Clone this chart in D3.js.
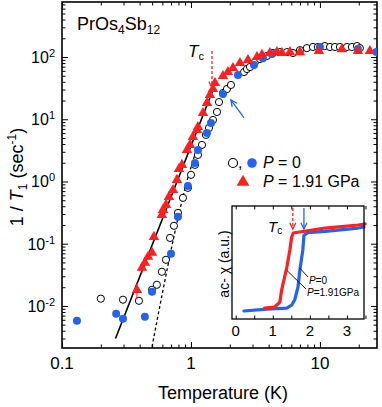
<!DOCTYPE html>
<html>
<head>
<meta charset="utf-8">
<script src="https://cdn.jsdelivr.net/npm/d3@7"></script>
<style>
body { margin: 0; background: #fff; }
svg { display: block; font-family: "Liberation Sans", Arial, sans-serif; }
.tk .domain { display: none; }
.tk line { stroke: #000; stroke-width: 1; }
</style>
</head>
<body>
<svg width="382" height="407"></svg>
<script>
// 1/T1 of PrOs4Sb12 vs temperature; open + blue circles at P = 0, red triangles at 1.91 GPa
var openT = [0.200, 0.297, 0.395, 0.499, 0.544, 0.595, 0.640, 0.688, 0.738, 0.793, 0.867, 0.947, 1.00, 1.074, 1.133, 1.217, 1.306, 1.379, 1.481, 1.591, 1.649, 1.771, 1.901, 2.041, 2.58, 2.718, 2.866, 3.135, 3.43, 3.88, 4.32, 4.90, 5.55, 6.18, 7.00, 7.92, 8.83, 9.64, 10.9, 11.97, 13.07, 14.3, 16.2, 17.7, 19.4, 20.4];
var openR = [0.0131, 0.0126, 0.0121, 0.0182, 0.0219, 0.0354, 0.0552, 0.124, 0.194, 0.313, 0.546, 0.79, 1.28, 1.85, 2.67, 3.87, 5.60, 7.24, 9.75, 13.1, 18.9, 26.4, 30.6, 35.6, 57.4, 64.2, 69.1, 83, 93, 104, 116, 120, 120, 116, 129, 139, 145, 145, 150, 145, 145, 145, 145, 145, 150, 139];

var blueT = [0.1306, 0.263, 0.297, 0.439, 0.499, 0.700, 0.793, 0.947, 1.074, 1.133, 1.330, 1.429, 1.771, 2.314, 3.08, 3.61, 4.24, 10.0, 19.7, 27.4];
var blueR = [0.0058, 0.0075, 0.0062, 0.0067, 0.0169, 0.0689, 0.270, 0.85, 1.99, 3.21, 6.03, 8.73, 25.5, 51.4, 74.4, 96, 112, 145, 134, 120];

var redT = [0.381, 0.417, 0.439, 0.465, 0.499, 0.516, 0.595, 0.607, 0.640, 0.675, 0.725, 0.778, 0.807, 0.851, 0.931, 0.982, 1.036, 1.113, 1.133, 1.239, 1.330, 1.403, 1.481, 1.535, 1.771, 1.935, 2.116, 2.397, 2.767, 3.25, 3.55, 4.09, 4.64, 5.07, 5.85, 7.00, 9.82, 14.8, 19.7, 24.4];
var redR = [0.018, 0.041, 0.0494, 0.0616, 0.0714, 0.129, 0.291, 0.350, 0.421, 0.566, 0.73, 1.06, 1.59, 1.85, 3.21, 3.87, 5.20, 6.73, 7.52, 12.6, 18.3, 24.5, 30.6, 38.3, 49.5, 57.4, 66.6, 80, 89.5, 100, 108, 116, 120, 116, 120, 120, 125, 134, 125, 125];
var redErrT = [0.381, 0.417], redErrLo = [0.0128, 0.034], redErrHi = [0.024, 0.048];

// fit lines
var solidFitT = [0.26, 1.48], solidFitR = [0.003, 29.5];
var dashFitT = [0.499, 0.607, 0.751, 0.914, 1.09], dashFitR = [0.0022, 0.018, 0.155, 0.88, 3.0];

var xTicks = [0.1, 1, 10], xTickLabels = ["0.1", "1", "10"];
var yTicks = [0.01, 0.1, 1, 10, 100], yTickExp = ["-2", "-1", "0", "1", "2"];

// inset: ac susceptibility (arbitrary units)
var insetBlueT = [0.22, 0.84, 1.38, 1.51, 1.59, 1.68, 1.73, 1.81, 1.84, 1.95, 2.41, 3.30, 3.46];
var insetBlueX = [0.071, 0.088, 0.097, 0.124, 0.168, 0.283, 0.434, 0.611, 0.74, 0.765, 0.775, 0.805, 0.814];
var insetRedT = [0.78, 1.05, 1.19, 1.24, 1.27, 1.38, 1.46, 1.51, 1.55, 2.41, 3.30, 3.49];
var insetRedX = [0.097, 0.106, 0.150, 0.257, 0.301, 0.460, 0.611, 0.726, 0.761, 0.805, 0.832, 0.841];
var insetTicks = [0, 1, 2, 3];

var blue = "#2462f0", red = "#ff1f1f";

var svg = d3.select("svg"),
    margin = {top: 2, right: 5, bottom: 59, left: 62},
    width = +svg.attr("width") - margin.left - margin.right,
    height = +svg.attr("height") - margin.top - margin.bottom,
    g = svg.append("g").attr("transform", "translate(" + margin.left + "," + margin.top + ")");

var x = d3.scaleLog().domain([0.1, 27.7]).range([0, width]);
var y = d3.scaleLog().domain([0.00211, 766]).range([height, 0]);

function minorTicks(dom) {
  var out = [];
  for (var e = -4; e <= 3; e++)
    for (var k = 2; k <= 9; k++) {
      var v = k * Math.pow(10, e);
      if (v > dom[0] && v < dom[1]) out.push(v);
    }
  return out;
}
var xMinor = minorTicks(x.domain()), yMinor = minorTicks(y.domain());

function ticks(sel, axis, vals, len) {
  sel.append("g").attr("class", "tk").call(axis.tickValues(vals).tickSize(-len).tickFormat(""));
}
var bot = g.append("g").attr("transform", "translate(0," + height + ")");
ticks(bot, d3.axisBottom(x), xTicks, 6); ticks(bot, d3.axisBottom(x), xMinor, 3.5);
ticks(g, d3.axisTop(x), xTicks, 6); ticks(g, d3.axisTop(x), xMinor, 3.5);
ticks(g, d3.axisLeft(y), yTicks, 6); ticks(g, d3.axisLeft(y), yMinor, 3.5);
var rgt = g.append("g").attr("transform", "translate(" + width + ",0)");
ticks(rgt, d3.axisRight(y), yTicks, 6); ticks(rgt, d3.axisRight(y), yMinor, 3.5);

g.append("rect").attr("width", width).attr("height", height)
    .attr("fill", "none").attr("stroke", "#000").attr("stroke-width", 1.6);

// tick labels
g.selectAll(".xl").data(xTicks).enter().append("text")
    .attr("x", function(d) { return x(d); }).attr("y", height + 21)
    .attr("text-anchor", "middle").attr("font-size", 17)
    .text(function(d, i) { return xTickLabels[i]; });

var yl = g.selectAll(".yl").data(yTicks).enter().append("text")
    .attr("x", -7).attr("y", function(d) { return y(d) + 6; })
    .attr("text-anchor", "end").attr("font-size", 16);
yl.append("tspan").text("10");
yl.append("tspan").attr("dy", -6).attr("font-size", 11).text(function(d, i) { return yTickExp[i]; });

// axis titles
svg.append("text").attr("x", 223).attr("y", 399).attr("text-anchor", "middle")
    .attr("font-size", 18).text("Temperature (K)");
var yt = svg.append("text").attr("transform", "translate(23,177) rotate(-90)")
    .attr("text-anchor", "middle").attr("font-size", 18);
yt.append("tspan").text("1 / ");
yt.append("tspan").attr("font-style", "italic").text("T");
yt.append("tspan").attr("dy", 4).attr("font-size", 12).text("1");
yt.append("tspan").attr("dy", -4).text(" (sec");
yt.append("tspan").attr("dy", -7).attr("font-size", 12).text("-1");
yt.append("tspan").attr("dy", 7).text(")");

// compound name
var nm = svg.append("text").attr("x", 77).attr("y", 30).attr("font-size", 18);
nm.append("tspan").text("PrOs");
nm.append("tspan").attr("dy", 4).attr("font-size", 12).text("4");
nm.append("tspan").attr("dy", -4).text("Sb");
nm.append("tspan").attr("dy", 4).attr("font-size", 12).text("12");

// data
svg.append("clipPath").attr("id", "plot").append("rect").attr("width", width).attr("height", height);
var data = g.append("g").attr("clip-path", "url(#plot)");

var line = d3.line()
    .x(function(d) { return x(d[0]); })
    .y(function(d) { return y(d[1]); });

data.append("path").datum(solidFitT.map(function(t, i) { return [t, solidFitR[i]]; }))
    .attr("fill", "none").attr("stroke", "#000").attr("stroke-width", 1.6).attr("d", line);
data.append("path").datum(dashFitT.map(function(t, i) { return [t, dashFitR[i]]; }))
    .attr("fill", "none").attr("stroke", "#000").attr("stroke-width", 1.3)
    .attr("stroke-dasharray", "3,2.5").attr("d", line.curve(d3.curveMonotoneX));

data.selectAll(".op").data(openT).enter().append("circle")
    .attr("cx", function(d) { return x(d); })
    .attr("cy", function(d, i) { return y(openR[i]); })
    .attr("r", 3.6).attr("fill", "#fff").attr("stroke", "#000").attr("stroke-width", 1);

data.selectAll(".bl").data(blueT).enter().append("circle")
    .attr("cx", function(d) { return x(d); })
    .attr("cy", function(d, i) { return y(blueR[i]); })
    .attr("r", 4).attr("fill", blue);

data.selectAll(".er").data(redErrT).enter().append("line")
    .attr("x1", function(d) { return x(d); }).attr("x2", function(d) { return x(d); })
    .attr("y1", function(d, i) { return y(redErrLo[i]); })
    .attr("y2", function(d, i) { return y(redErrHi[i]); })
    .attr("stroke", red).attr("stroke-width", 1);

var tri = d3.symbol(d3.symbolTriangle).size(48);
data.selectAll(".rd").data(redT).enter().append("path")
    .attr("transform", function(d, i) { return "translate(" + x(d) + "," + y(redR[i]) + ")"; })
    .attr("d", tri).attr("fill", red);

// arrows
function arrow(sel, x1, y1, x2, y2, color, dash) {
  var a = Math.atan2(y2 - y1, x2 - x1), h = 7, w = 0.45;
  sel.append("line").attr("x1", x1).attr("y1", y1).attr("x2", x2).attr("y2", y2)
      .attr("stroke", color).attr("stroke-width", 1.3).attr("stroke-dasharray", dash || null);
  sel.append("path")
      .attr("d", "M" + (x2 - h * Math.cos(a - w)) + "," + (y2 - h * Math.sin(a - w)) +
                 "L" + x2 + "," + y2 +
                 "L" + (x2 - h * Math.cos(a + w)) + "," + (y2 - h * Math.sin(a + w)))
      .attr("fill", "none").attr("stroke", color).attr("stroke-width", 1.3);
}
arrow(g, x(1.456), y(125), x(1.456), y(32), red, "3,2");
arrow(g, x(2.58), y(10.5), x(2.04), y(20.4), blue);

var tc = g.append("text").attr("x", x(0.95)).attr("y", y(100)).attr("font-size", 17);
tc.append("tspan").attr("font-style", "italic").text("T");
tc.append("tspan").attr("dy", 3).attr("font-size", 11).text("c");

// legend
svg.append("circle").attr("cx", 233).attr("cy", 163).attr("r", 4.5)
    .attr("fill", "#fff").attr("stroke", "#000").attr("stroke-width", 1.1);
svg.append("text").attr("x", 238).attr("y", 168).attr("font-size", 16).text(",");
svg.append("circle").attr("cx", 252).attr("cy", 163).attr("r", 4.8).attr("fill", blue);
svg.append("path").attr("transform", "translate(243,182)")
    .attr("d", d3.symbol(d3.symbolTriangle).size(70)).attr("fill", red);
var l1 = svg.append("text").attr("x", 263).attr("y", 168).attr("font-size", 16);
l1.append("tspan").attr("font-style", "italic").text("P");
l1.append("tspan").text(" = 0");
var l2 = svg.append("text").attr("x", 263).attr("y", 187).attr("font-size", 16);
l2.append("tspan").attr("font-style", "italic").text("P");
l2.append("tspan").text(" = 1.91 GPa");

// inset
var ix = d3.scaleLinear().domain([-0.1, 3.46]).range([232, 364]);
var iy = d3.scaleLinear().domain([0, 1]).range([319, 206]);
var ins = svg.append("g");
ins.append("rect").attr("x", 232).attr("y", 206).attr("width", 132).attr("height", 113)
    .attr("fill", "#fff");

var iTicks = d3.range(0, 3.6, 0.5);
ins.append("g").attr("class", "tk").attr("transform", "translate(0,319)")
    .call(d3.axisBottom(ix).tickValues(iTicks).tickSize(-3.5).tickFormat(""));
ins.append("g").attr("class", "tk").attr("transform", "translate(0,206)")
    .call(d3.axisTop(ix).tickValues(iTicks).tickSize(-3.5).tickFormat(""));
ins.selectAll(".il").data(insetTicks).enter().append("text")
    .attr("x", function(d) { return ix(d); }).attr("y", 336)
    .attr("text-anchor", "middle").attr("font-size", 15).text(function(d) { return d; });

var iline = d3.line()
    .x(function(d) { return ix(d[0]); })
    .y(function(d) { return iy(d[1]); });
ins.append("path").datum(insetBlueT.map(function(t, i) { return [t, insetBlueX[i]]; }))
    .attr("fill", "none").attr("stroke", blue).attr("stroke-width", 3.2)
    .attr("stroke-linejoin", "round").attr("stroke-linecap", "round").attr("d", iline);
ins.append("path").datum(insetRedT.map(function(t, i) { return [t, insetRedX[i]]; }))
    .attr("fill", "none").attr("stroke", red).attr("stroke-width", 3.2)
    .attr("stroke-linejoin", "round").attr("stroke-linecap", "round").attr("d", iline);

ins.append("rect").attr("x", 232).attr("y", 206).attr("width", 132).attr("height", 113)
    .attr("fill", "none").attr("stroke", "#000").attr("stroke-width", 1.3);

arrow(ins, ix(1.54), iy(0.982), ix(1.54), iy(0.796), red, "3,2");
arrow(ins, ix(1.84), iy(0.982), ix(1.84), iy(0.796), blue);

var itc = ins.append("text").attr("x", 268).attr("y", 232).attr("font-size", 15);
itc.append("tspan").attr("font-style", "italic").text("T");
itc.append("tspan").attr("dy", 2).attr("font-size", 10).text("c");

ins.append("line").attr("x1", ix(1.73)).attr("y1", iy(0.45)).attr("x2", 308).attr("y2", 277)
    .attr("stroke", "#000").attr("stroke-width", 0.9);
ins.append("line").attr("x1", ix(1.38)).attr("y1", iy(0.43)).attr("x2", 306).attr("y2", 289)
    .attr("stroke", "#000").attr("stroke-width", 0.9);
var p0 = ins.append("text").attr("x", 309).attr("y", 284).attr("font-size", 10);
p0.append("tspan").attr("font-style", "italic").text("P");
p0.append("tspan").text("=0");
var p1 = ins.append("text").attr("x", 307).attr("y", 296).attr("font-size", 10);
p1.append("tspan").attr("font-style", "italic").text("P");
p1.append("tspan").text("=1.91GPa");

var ixl = ins.append("text").attr("transform", "translate(229,264) rotate(-90)")
    .attr("text-anchor", "middle").attr("font-size", 14);
ixl.text("ac- \u03c7 (a.u.)");
</script>
</body>
</html>
